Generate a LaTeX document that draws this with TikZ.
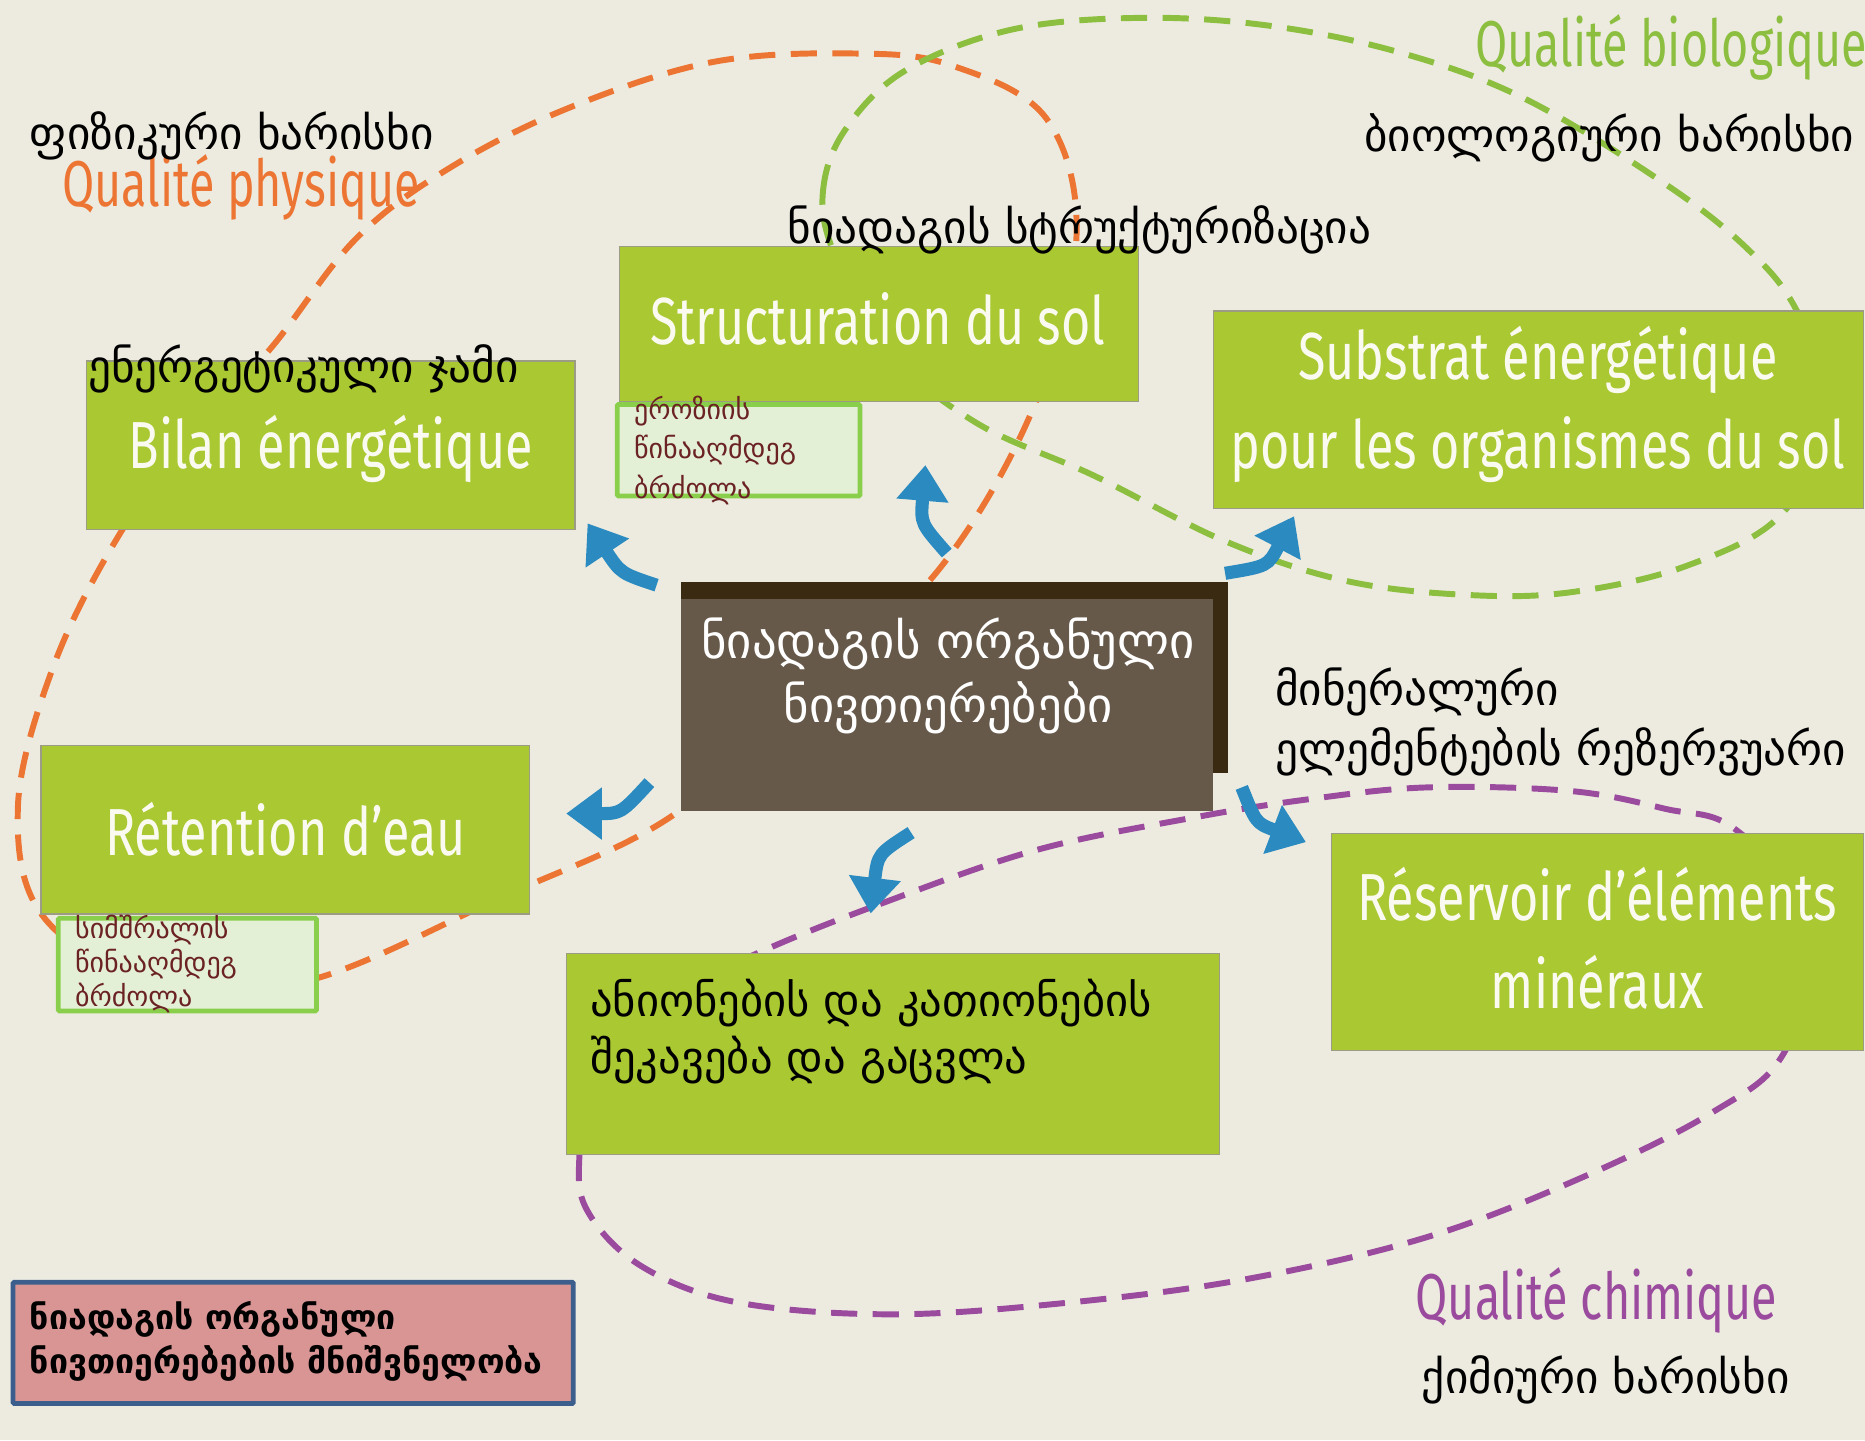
\documentclass[tikz,border=0pt]{standalone}
\usepackage{fontspec}
\setmainfont{DejaVu Sans}
\newfontfamily\kafont{DejaVu Sans}
\newfontfamily\frfont[FakeStretch=0.755]{Fira Sans}
\newfontfamily\qfont[FakeStretch=0.72]{Fira Sans}
\usetikzlibrary{arrows.meta}
\definecolor{bg}{HTML}{EDEBE0}
\definecolor{boxgreen}{HTML}{AAC832}
\definecolor{boxline}{HTML}{9C9C84}
\definecolor{boxtext}{HTML}{FAFAF0}
\definecolor{dorange}{HTML}{EC7533}
\definecolor{dgreen}{HTML}{8CBF3F}
\definecolor{dpurple}{HTML}{9B4B9E}
\definecolor{ablue}{HTML}{2B8BC0}
\definecolor{legfill}{HTML}{D99594}
\definecolor{legline}{HTML}{3C5E8C}
\definecolor{smallfill}{HTML}{E4F0D6}
\definecolor{smallline}{HTML}{8ACF4C}
\definecolor{smalltext}{HTML}{6B2222}
\definecolor{cdark}{HTML}{3B2A12}
\definecolor{cmain}{HTML}{66594A}
\begin{document}
\begin{tikzpicture}[x=1pt,y=-1pt,
  box/.style={draw=boxline, line width=1pt, fill=boxgreen, anchor=north west, inner sep=0pt},
  frtext/.style={text=boxtext, font=\frfont\fontsize{56}{74}\selectfont, align=center},
  quality/.style={font=\qfont\fontsize{54.5}{60}\selectfont, anchor=west, inner sep=0pt},
  kalabel/.style={font=\kafont\fontsize{38}{50}\selectfont, anchor=west, inner sep=0pt, text=black},
  smallbox/.style={draw=smallline, line width=4pt, fill=smallfill, anchor=north west, inner sep=0pt, rounded corners=1pt},
  smalltxt/.style={font=\kafont\fontsize{23.5}{33}\selectfont, text=smalltext, anchor=north west, align=left, inner sep=0pt},
  loop/.style={line width=5pt, dash pattern=on 22pt off 13pt},
  barrow/.style={draw=ablue, line width=11pt, -{Triangle[width=42pt,length=30pt]}}
]
% background / bounding box
\fill[bg] (0,0) rectangle (1568,1211);
\useasboundingbox (0,0) rectangle (1568,1211);

% dashed quality loops
\draw[loop, dorange] plot[smooth cycle, tension=0.6] coordinates {
  (268,822) (420,755) (565,686) (680,580) (790,478) (870,340) (905,200)
  (880,100) (800,55) (720,45) (600,52) (480,90) (380,140) (300,200)
  (230,290) (160,370) (100,450) (45,560) (15,680) (40,775) (150,835)};
\draw[loop, dgreen] plot[smooth cycle, tension=0.6] coordinates {
  (700,210) (692,160) (710,110) (760,60) (850,25) (960,15) (1070,22)
  (1180,45) (1284,84) (1402,156) (1470,210) (1510,260) (1540,340)
  (1500,430) (1420,475) (1320,498) (1230,500) (1130,488) (1030,455)
  (920,400) (820,355) (740,290)};
\draw[loop, dpurple] plot[smooth cycle, tension=0.6] coordinates {
  (640,800) (740,760) (870,715) (1000,688) (1100,672) (1200,662)
  (1320,665) (1400,680) (1460,698) (1530,780) (1500,885) (1440,935)
  (1330,990) (1200,1040) (1050,1075) (900,1095) (750,1105) (620,1095)
  (540,1065) (495,1020) (487,975) (500,900) (560,840)};

% green boxes
\node[box, minimum width=437pt, minimum height=130pt] (struct) at (520,207) {};
\node[frtext] (structtxt) at (738,268) {Structuration du sol};
\node[box, minimum width=411pt, minimum height=142pt] (bilan) at (72,303) {};
\node[frtext] (bilantxt) at (278,377) {Bilan énergétique};
\node[box, minimum width=546pt, minimum height=166pt] (substrat) at (1020,261) {};
\node[frtext] (substrattxt) at (1293,340) {Substrat énergétique\\pour les organismes du sol};
\node[box, minimum width=411pt, minimum height=142pt] (retention) at (34,626) {};
\node[frtext] (retentiontxt) at (240,697) {Rétention d’eau};
\node[box, minimum width=447pt, minimum height=183pt] (reservoir) at (1119,700) {};
\node[frtext] (reservoirtxt) at (1343,789) {Réservoir d’éléments\\minéraux};
\node[box, minimum width=549pt, minimum height=169pt] (anion) at (476,801) {};
\node[font=\kafont\fontsize{37.5}{48}\selectfont, anchor=north west, align=left, inner sep=0pt] (aniontxt) at (496,823) {ანიონების და კათიონების\\შეკავება და გაცვლა};

% central box
\node[fill=cdark, anchor=north west, minimum width=460pt, minimum height=161pt, inner sep=0pt] (centershadow) at (572,489) {};
\node[fill=cmain, anchor=north west, minimum width=448pt, minimum height=179pt, inner sep=0pt] (center) at (572,503) {};
\node[font=\kafont\fontsize{41}{54}\selectfont, text=white, align=center] (centertxt) at (797,568) {ნიადაგის ორგანული\\ნივთიერებები};

% small boxes
\node[smallbox, minimum width=204pt, minimum height=77pt] (erosion) at (517,338) {};
\node[smalltxt] (erosiontxt) at (533,333) {ეროზიის\\წინააღმდეგ\\ბრძოლა};
\node[smallbox, minimum width=217pt, minimum height=78pt] (drought) at (47,770) {};
\node[smalltxt, font=\kafont\fontsize{23.5}{28.5}\selectfont] (droughttxt) at (63,769) {სიმშრალის\\წინააღმდეგ\\ბრძოლა};

% legend box
\node[draw=legline, line width=4pt, fill=legfill, anchor=north west, minimum width=471pt, minimum height=102pt, inner sep=0pt, rounded corners=1pt] (legend) at (9,1076) {};
\node[font=\kafont\bfseries\fontsize{28.5}{37}\selectfont, anchor=north west, align=left, inner sep=0pt] (legendtxt) at (25,1094) {ნიადაგის ორგანული\\ნივთიერებების მნიშვნელობა};

% quality labels
\node[quality, text=dorange] (qphys) at (52,158) {Qualité physique};
\node[quality, text=dgreen] (qbio) at (1240,40) {Qualité biologique};
\node[quality, text=dpurple] (qchim) at (1190,1093) {Qualité chimique};

% Georgian labels
\node[kalabel] (physka) at (25,114) {ფიზიკური ხარისხი};
\node[kalabel] (bioka) at (1147,116) {ბიოლოგიური ხარისხი};
\node[kalabel] (structka) at (662,193) {ნიადაგის სტრუქტურიზაცია};
\node[kalabel] (energyka) at (74,310) {ენერგეტიკული ჯამი};
\node[kalabel, align=left] (mineralka) at (1072,607) {მინერალური\\ელემენტების რეზერვუარი};
\node[kalabel, anchor=center] (chemka) at (1350,1160) {ქიმიური ხარისხი};

% blue arrows
\coordinate (a1s) at (552,492); \coordinate (a1e) at (494,440);
\coordinate (a2s) at (796,465); \coordinate (a2e) at (778,391);
\coordinate (a3s) at (1030,482); \coordinate (a3e) at (1088,434);
\coordinate (a4s) at (546,658); \coordinate (a4e) at (476,684);
\coordinate (a5s) at (766,700); \coordinate (a5e) at (732,768);
\coordinate (a6s) at (1044,662); \coordinate (a6e) at (1098,708);
\draw[barrow] (a1s) .. controls (522,482) .. (a1e);
\draw[barrow] (a2s) .. controls (774,440) .. (a2e);
\draw[barrow] (a3s) .. controls (1066,476) .. (a3e);
\draw[barrow] (a4s) .. controls (522,684) .. (a4e);
\draw[barrow] (a5s) .. controls (738,718) .. (a5e);
\draw[barrow] (a6s) .. controls (1056,692) .. (a6e);
\end{tikzpicture}
\end{document}
